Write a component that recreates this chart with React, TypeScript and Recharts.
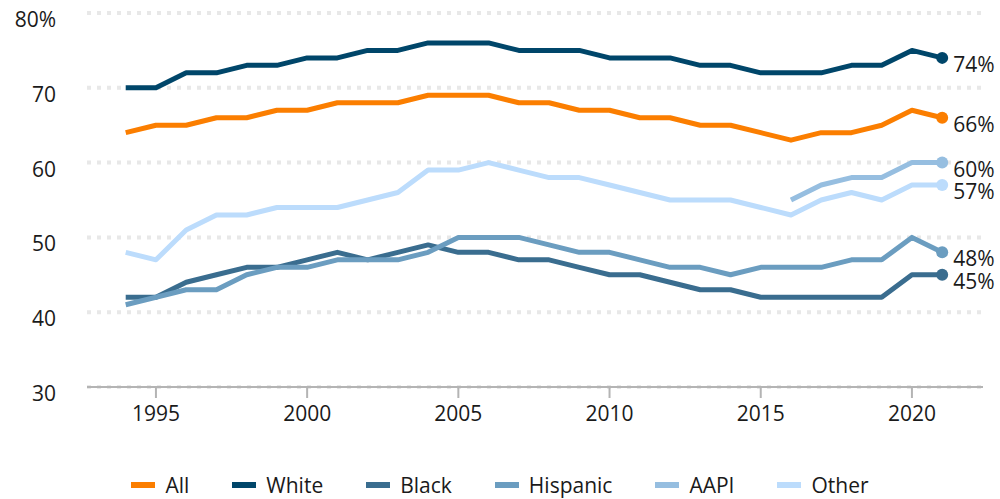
import React from "react";
import { CartesianGrid, Line, LineChart, XAxis, YAxis } from "recharts";

const years = [
  1994, 1995, 1996, 1997, 1998, 1999, 2000, 2001, 2002, 2003, 2004, 2005, 2006, 2007,
  2008, 2009, 2010, 2011, 2012, 2013, 2014, 2015, 2016, 2017, 2018, 2019, 2020, 2021,
];

const allValues = [64, 65, 65, 66, 66, 67, 67, 68, 68, 68, 69, 69, 69, 68, 68, 67, 67, 66, 66, 65, 65, 64, 63, 64, 64, 65, 67, 66];
const whiteValues = [70, 70, 72, 72, 73, 73, 74, 74, 75, 75, 76, 76, 76, 75, 75, 75, 74, 74, 74, 73, 73, 72, 72, 72, 73, 73, 75, 74];
const blackValues = [42, 42, 44, 45, 46, 46, 47, 48, 47, 48, 49, 48, 48, 47, 47, 46, 45, 45, 44, 43, 43, 42, 42, 42, 42, 42, 45, 45];
const hispanicValues = [41, 42, 43, 43, 45, 46, 46, 47, 47, 47, 48, 50, 50, 50, 49, 48, 48, 47, 46, 46, 45, 46, 46, 46, 47, 47, 50, 48];
// AAPI series only starts in 2016
const aapiValues = [null, null, null, null, null, null, null, null, null, null, null, null, null, null, null, null, null, null, null, null, null, null, 55, 57, 58, 58, 60, 60];
const otherValues = [48, 47, 51, 53, 53, 54, 54, 54, 55, 56, 59, 59, 60, 59, 58, 58, 57, 56, 55, 55, 55, 54, 53, 55, 56, 55, 57, 57];

const yTicks = [30, 40, 50, 60, 70, 80];
const xTicks = [1995, 2000, 2005, 2010, 2015, 2020];

const series = [
  { key: "all", name: "All", color: "#fb7e00", values: allValues },
  { key: "white", name: "White", color: "#00466a", values: whiteValues },
  { key: "black", name: "Black", color: "#3a6d8f", values: blackValues },
  { key: "hispanic", name: "Hispanic", color: "#6b9dc0", values: hispanicValues },
  { key: "aapi", name: "AAPI", color: "#96bee0", values: aapiValues },
  { key: "other", name: "Other", color: "#bcdcfc", values: otherValues },
];

const data = years.map((year, i) => {
  const row: Record<string, number | null> = { year };
  series.forEach((s) => {
    row[s.key] = s.values[i];
  });
  return row;
});

const FONT = "'Open Sans', 'Noto Sans', sans-serif";
const lastIndex = years.length - 1;

function YTick(props: any) {
  const { x, y, payload } = props;
  const label = payload.value === 80 ? "80%" : String(payload.value);
  return (
    <text x={x} y={y + 14} textAnchor="end" fill="#1a1a1a" fontSize={21} fontFamily={FONT}>
      {label}
    </text>
  );
}

function endDot(color: string) {
  return (props: any) => {
    const { cx, cy, index, value } = props;
    if (index !== lastIndex || cy == null) return <g key={`d-${index}`} />;
    return (
      <g key={`d-${index}`}>
        <circle cx={cx} cy={cy} r={6} fill={color} />
        <text x={cx + 11} y={cy + 14} fill="#1a1a1a" fontSize={21} fontFamily={FONT}>
          {`${value}%`}
        </text>
      </g>
    );
  };
}

export default function App() {
  return (
    <div style={{ position: "absolute", left: 0, top: 0, width: 1000, height: 499, background: "#fff" }}>
      <LineChart
        width={1000}
        height={440}
        data={data}
        margin={{ top: 13, right: 17, bottom: 0, left: 0 }}
        style={{ overflow: "visible" }}
      >
        <XAxis
          dataKey="year"
          type="number"
          domain={[1992.72, 2022.35]}
          ticks={xTicks}
          height={53}
          axisLine={{ stroke: "#b4b4b4", strokeWidth: 2 }}
          tickLine={{ stroke: "#b4b4b4", strokeWidth: 2 }}
          tickSize={11}
          tickMargin={8}
          tick={{ fill: "#1a1a1a", fontSize: 21, fontFamily: FONT }}
        />
        <YAxis
          domain={[30, 80]}
          ticks={yTicks}
          width={87}
          axisLine={false}
          tickLine={false}
          tickSize={0}
          tickMargin={31}
          tick={<YTick />}
        />
        <CartesianGrid vertical={false} stroke="#e8e8e8" strokeWidth={4} strokeDasharray="4 6" />
        {series.map((s) => (
          <Line
            key={s.key}
            dataKey={s.key}
            name={s.name}
            stroke={s.color}
            strokeWidth={5}
            strokeLinejoin="round"
            dot={endDot(s.color)}
            activeDot={false}
            connectNulls={false}
            isAnimationActive={false}
          />
        ))}
      </LineChart>
      <div
        style={{
          position: "absolute",
          top: 473,
          left: 0,
          width: 1000,
          display: "flex",
          justifyContent: "center",
          gap: 43,
          fontFamily: FONT,
          fontSize: 21,
          color: "#1a1a1a",
          lineHeight: "24px",
        }}
      >
        {series.map((s) => (
          <div key={s.key} style={{ display: "flex", alignItems: "center", gap: 10 }}>
            <span style={{ display: "inline-block", width: 24, height: 6, background: s.color }} />
            <span>{s.name}</span>
          </div>
        ))}
      </div>
    </div>
  );
}
